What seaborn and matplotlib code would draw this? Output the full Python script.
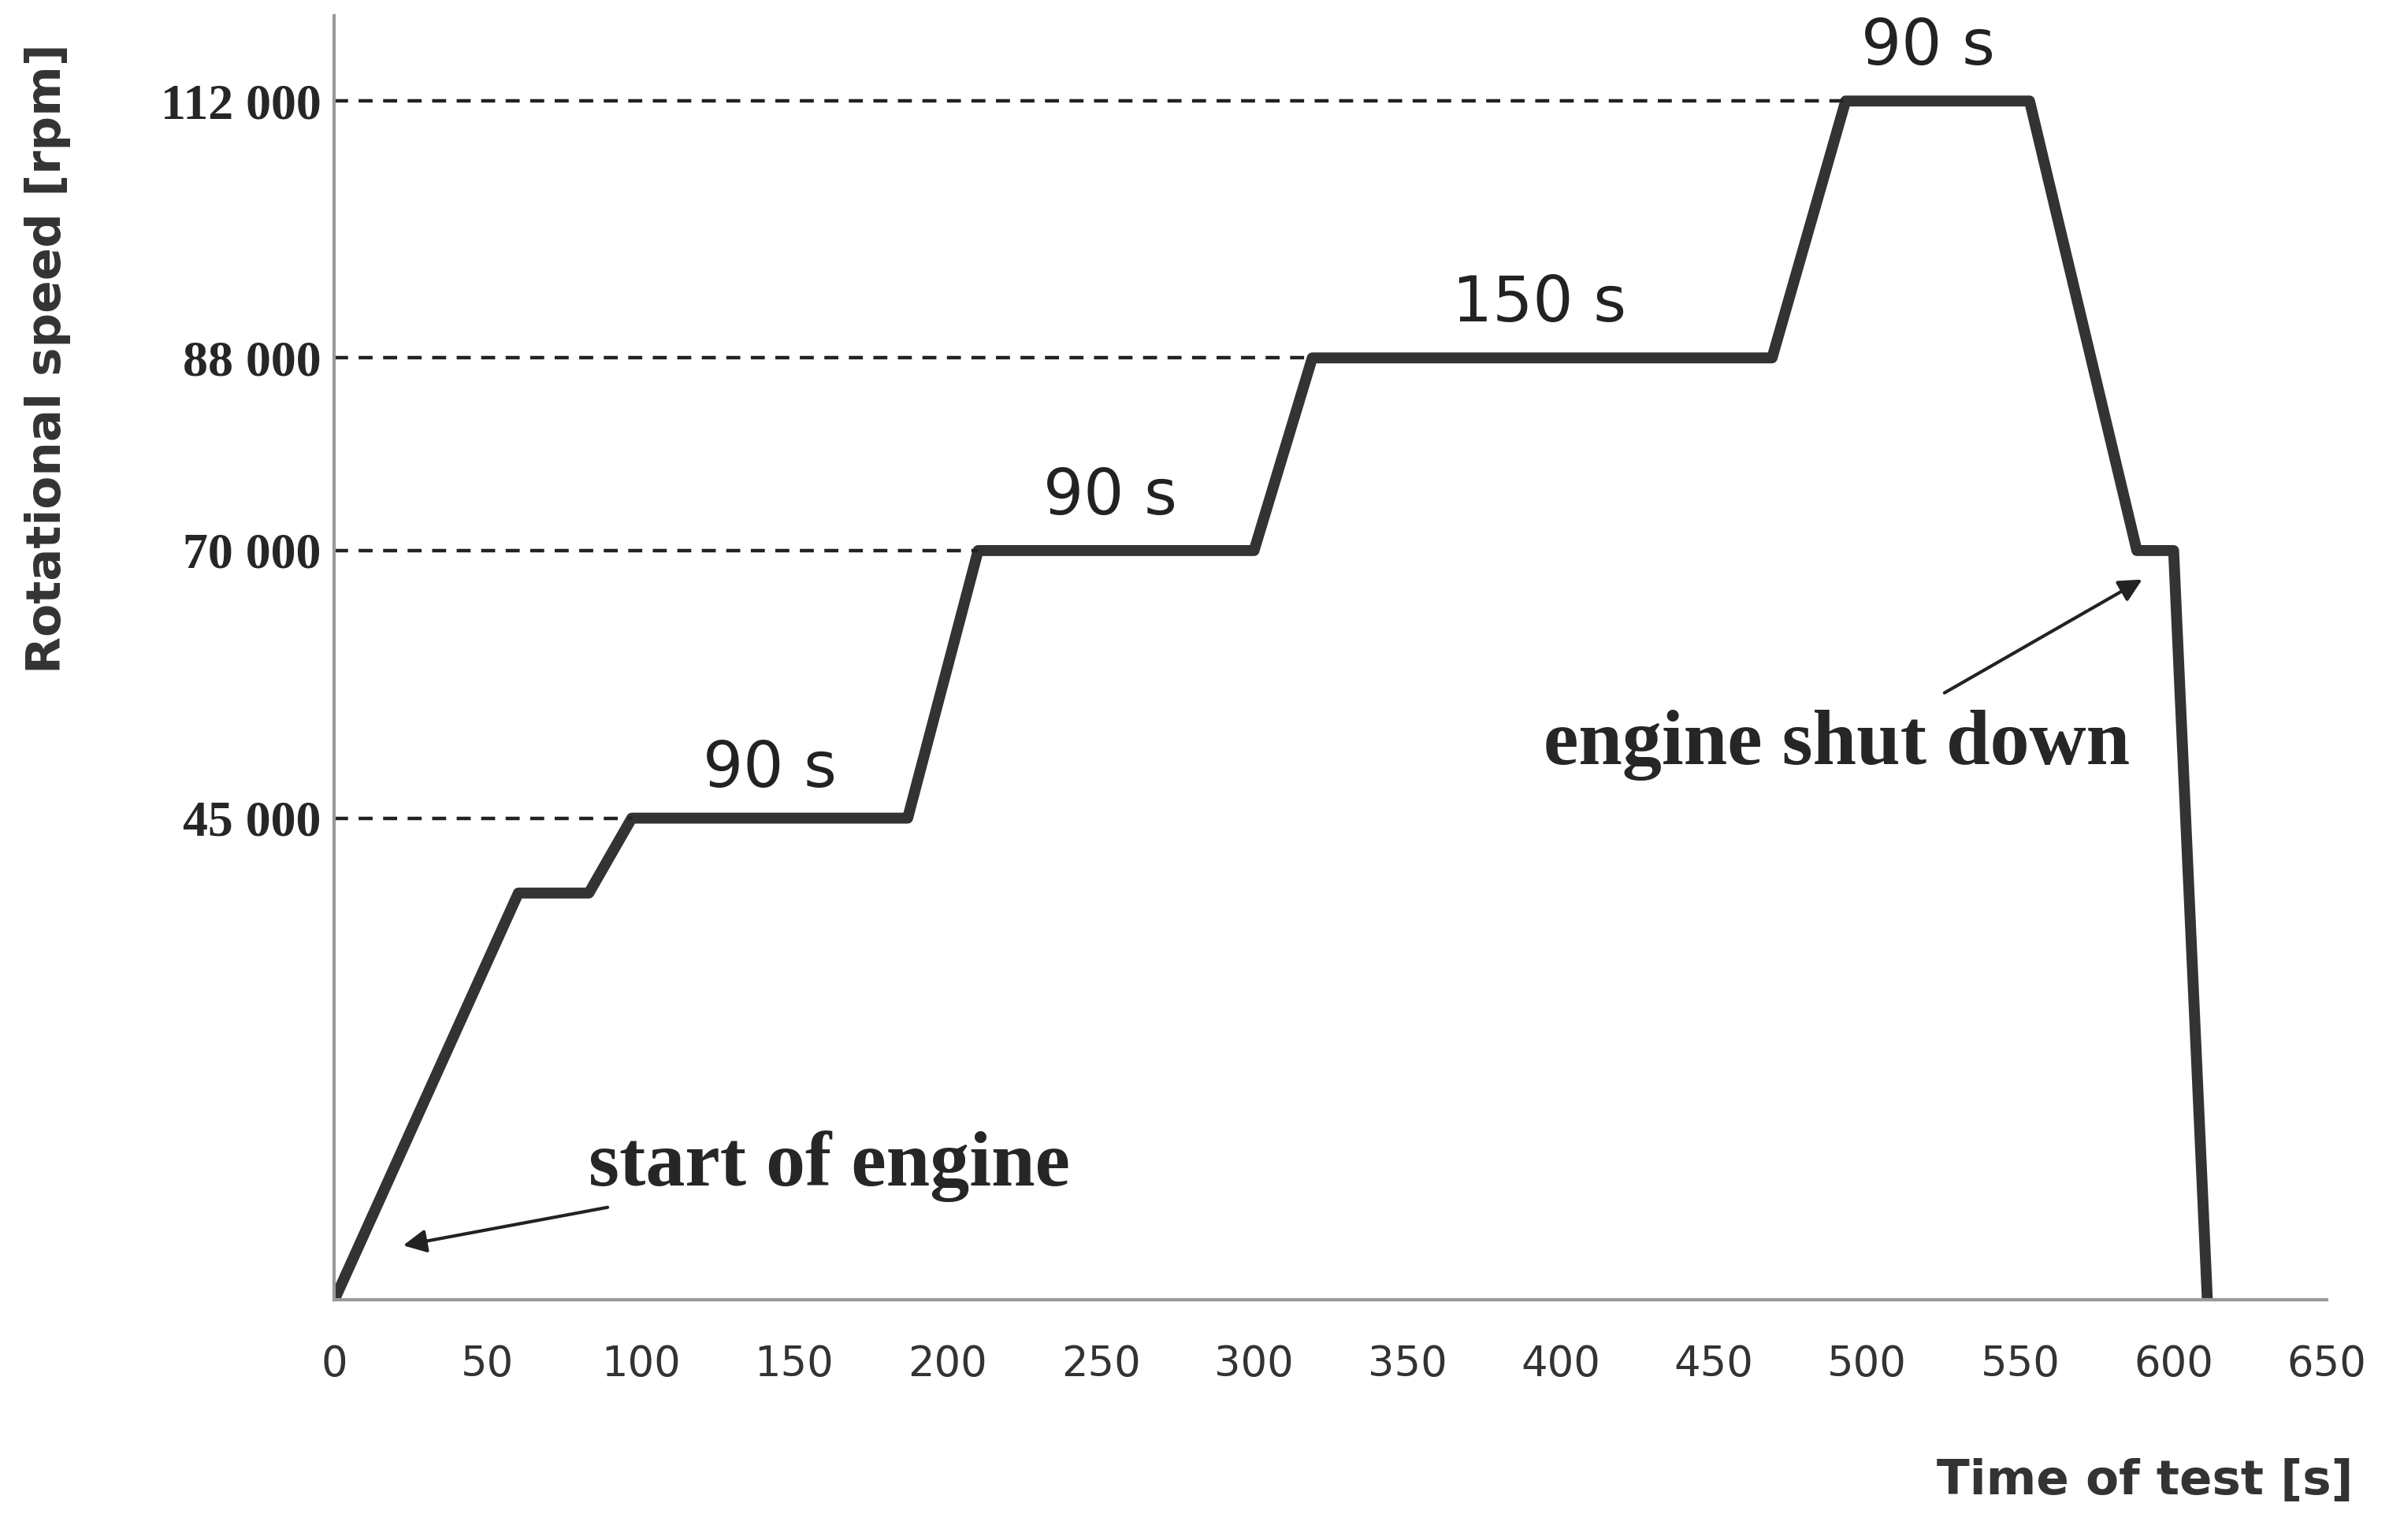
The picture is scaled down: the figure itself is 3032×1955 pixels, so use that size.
import matplotlib
matplotlib.use("Agg")
import matplotlib.pyplot as plt
import seaborn as sns
import pandas as pd

time_s = [0, 60, 83, 97, 187, 210, 300, 319, 469, 493, 553, 588, 600, 611]
speed_rpm = [0, 38000, 38000, 45000, 45000, 70000, 70000, 88000, 88000, 112000, 112000, 70000, 70000, 0]
level_values = [45000, 70000, 88000, 112000]
level_starts = [97, 210, 319, 493]
level_labels = ["45 000", "70 000", "88 000", "112 000"]
duration_labels = ["90 s", "90 s", "150 s", "90 s"]
duration_x = [142, 253, 393, 520]
duration_y = [49500, 75000, 93000, 117000]
x_ticks = list(range(0, 651, 50))

sns.set_style("white")
fig = plt.figure(figsize=(15.16, 9.775), dpi=200)
ax = fig.add_axes([0.14, 0.156, 0.834, 0.834])
df = pd.DataFrame({"t": time_s, "v": speed_rpm})
sns.lineplot(data=df, x="t", y="v", ax=ax, color="#333333", linewidth=5, sort=False)

for v, s in zip(level_values, level_starts):
    ax.plot([0, s], [v, v], ls=(0, (4, 3)), color="#222222", lw=1.6)
for x, y, t in zip(duration_x, duration_y, duration_labels):
    ax.text(x, y, t, ha="center", va="center", fontsize=29, color="#222222")

ax.set_xlim(0, 650)
ax.set_ylim(0, 120000)
ax.set_xticks(x_ticks)
ax.set_xticklabels([str(x) for x in x_ticks], fontsize=19, color="#333333")
ax.set_yticks(level_values)
ax.set_yticklabels(level_labels, fontsize=23, family="Liberation Serif", fontweight="bold")
ax.tick_params(axis="x", length=8, color="#999999", pad=12)
ax.tick_params(axis="y", length=0, pad=6)
for sp in ["top", "right"]:
    ax.spines[sp].set_visible(False)
for sp in ["left", "bottom"]:
    ax.spines[sp].set_color("#999999")
    ax.spines[sp].set_linewidth(1.5)
ax.set_xlabel("")
ax.set_ylabel("")
fig.text(0.985, 0.038, "Time of test [s]", ha="right", va="center", fontsize=22, fontweight="bold", color="#333333")
fig.text(0.02, 0.767, "Rotational speed [rpm]", rotation=90, ha="center", va="center", fontsize=22, fontweight="bold", color="#333333")

ax.annotate("start of engine", xy=(21, 5000), xytext=(83, 12500), fontsize=36,
            family="Liberation Serif", fontweight="bold", va="center", ha="left",
            arrowprops=dict(arrowstyle="-|>", color="#222222", lw=1.5, mutation_scale=22))
ax.annotate("", xy=(591, 67500), xytext=(524, 56500),
            arrowprops=dict(arrowstyle="-|>", color="#222222", lw=1.5, mutation_scale=22))
ax.text(490, 51800, "engine shut down", fontsize=36, family="Liberation Serif",
        fontweight="bold", ha="center", va="center")

fig.savefig("out.png", dpi=200)
